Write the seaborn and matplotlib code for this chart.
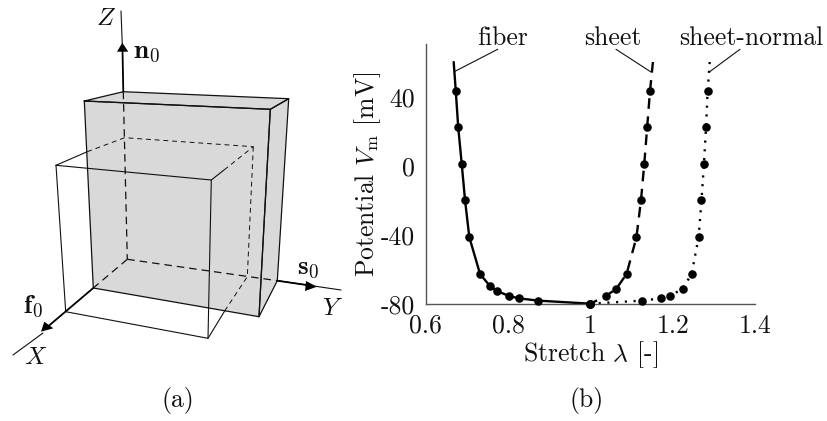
import matplotlib
matplotlib.use('Agg')
import matplotlib.pyplot as plt
import seaborn as sns

sns.set_theme(style='white')
plt.rcParams['font.family'] = ['cmr10', 'DejaVu Sans']
plt.rcParams['mathtext.fontset'] = 'cm'
plt.rcParams['axes.formatter.use_mathtext'] = True

# curves (b)
fiber_stretch = [0.668, 0.673, 0.679, 0.6875, 0.6956, 0.706, 0.732, 0.756, 0.7735, 0.802, 0.827, 0.873, 1.0]
fiber_vm = [60.7, 44, 22.7, 1.4, -19.8, -41.3, -62.7, -69.7, -72.6, -75.5, -76.9, -78.2, -80]
sheet_stretch = [1.152, 1.145, 1.138, 1.131, 1.123, 1.112, 1.088, 1.063, 1.038, 1.0]
sheet_vm = [60.7, 44, 22.7, 1.4, -19.8, -41.3, -62.7, -71.3, -75.5, -80]
normal_stretch = [1.29, 1.285, 1.281, 1.276, 1.27, 1.263, 1.246, 1.224, 1.193, 1.171, 1.126, 1.0]
normal_vm = [60.7, 44, 22.7, 1.4, -19.8, -41.3, -62.7, -71.3, -75.5, -76.9, -78.2, -80]

x_ticks = [0.6, 0.8, 1.0, 1.2, 1.4]
x_tick_labels = ['0.6', '0.8', '1', '1.2', '1.4']
y_ticks = [-80, -40, 0, 40]
y_tick_labels = ['-80', '-40', '0', '40']

# diagram (a), pixel positions in the figure
face_front = [(84.3, 101), (270.3, 109.3), (259, 316.7), (93.3, 288)]
face_top = [(84.3, 101), (123.3, 91.7), (288.7, 98.7), (270.3, 109.3)]
face_right = [(270.3, 109.3), (288.7, 98.7), (277.3, 280.7), (259, 316.7)]
solid_lines = [
    [(121, 11), (122.5, 50)],
    [(277.3, 280.7), (341, 290)],
    [(43, 333), (13, 355)],
    [(56, 165.3), (87.3, 151.7)],
    [(56, 165.3), (211.3, 180), (208, 338.3), (65.7, 311.7), (56, 165.3)],
    [(211.3, 180), (224, 170)],
    [(208, 338.3), (225.3, 310)],
]
thick_lines = [
    [(122.5, 50), (123.3, 91.7)],
    [(93.3, 288), (45, 329)],
    [(277.3, 280.7), (310, 285.5)],
]
dashed_lines = [
    [(123.3, 91.7), (127.3, 259.3)],
    [(127.3, 259.3), (93.3, 288)],
    [(127.3, 259.3), (277.3, 280.7)],
]
thin_dashed_lines = [
    [(87.3, 151.7), (124.7, 137.7), (253.3, 146.7), (224, 170)],
    [(253.3, 146.7), (247.3, 276.7), (225.3, 310)],
]
arrow_heads = [
    [(122.3, 42.7), (117, 51.7), (128.3, 51.7)],
    [(317, 286.7), (306, 281), (305, 291)],
    [(41, 331.7), (53.3, 328.3), (44.3, 321.7)],
]

fig = plt.figure(figsize=(8.28, 4.21), dpi=100)

sk = fig.add_axes([0, 0, 1, 1])
sk.set_xlim(0, 828)
sk.set_ylim(421, 0)
sk.axis('off')
for face in [face_front, face_top, face_right]:
    sk.fill([p[0] for p in face], [p[1] for p in face], color='#d9d9d9', lw=0)
    closed = face + [face[0]]
    sk.plot([p[0] for p in closed], [p[1] for p in closed], color='#111111', lw=0.9)
for line in solid_lines:
    sk.plot([p[0] for p in line], [p[1] for p in line], color='#111111', lw=0.8)
for line in thick_lines:
    sk.plot([p[0] for p in line], [p[1] for p in line], color='black', lw=1.3)
for line in dashed_lines:
    sk.plot([p[0] for p in line], [p[1] for p in line], color='#111111', lw=0.9, dashes=(6, 4))
for line in thin_dashed_lines:
    sk.plot([p[0] for p in line], [p[1] for p in line], color='#111111', lw=0.7, dashes=(5, 4))
for head in arrow_heads:
    sk.fill([p[0] for p in head], [p[1] for p in head], color='black', lw=0)

txt = dict(ha='center', va='center', color='#111111')
sk.text(106, 19, r'$Z$', fontsize=18, **txt)
sk.text(146, 52, r'$\mathbf{n}_0$', fontsize=19.5, **txt)
sk.text(308, 268, r'$\mathbf{s}_0$', fontsize=19.5, **txt)
sk.text(333, 309, r'$Y$', fontsize=18, **txt)
sk.text(33, 306, r'$\mathbf{f}_0$', fontsize=19.5, **txt)
sk.text(36, 358, r'$X$', fontsize=18, **txt)
sk.text(178, 401, '(a)', fontsize=18.5, **txt)
sk.text(587, 401, '(b)', fontsize=18.5, **txt)
sk.text(503, 38, 'fiber', fontsize=18.5, **txt)
sk.text(613, 38, 'sheet', fontsize=18.5, **txt)
sk.text(751, 38, 'sheet-normal', fontsize=18.5, **txt)

# leader lines
sk.plot([497.7, 455], [49.3, 71.3], color='#111111', lw=0.8)
sk.plot([616, 651], [49.3, 72], color='#111111', lw=0.8)
sk.plot([740, 709.3], [49.3, 72], color='#111111', lw=0.8)

ax = fig.add_axes([425.7 / 828, 1 - 303.7 / 421, 329.3 / 828, 259.7 / 421])
ax.patch.set_alpha(0)
sns.lineplot(x=fiber_stretch, y=fiber_vm, sort=False, estimator=None, color='black', lw=1.7, ax=ax)
sns.lineplot(x=sheet_stretch, y=sheet_vm, sort=False, estimator=None, color='black', lw=1.7,
             linestyle=(0, (4.5, 3.2)), ax=ax)
sns.lineplot(x=normal_stretch, y=normal_vm, sort=False, estimator=None, color='black', lw=1.7,
             linestyle=(0, (0.9, 2.8)), ax=ax)
for xs, ys in [(fiber_stretch, fiber_vm), (sheet_stretch, sheet_vm), (normal_stretch, normal_vm)]:
    sns.scatterplot(x=xs[1:], y=ys[1:], color='black', s=38, linewidth=0, clip_on=False, zorder=5, ax=ax)

ax.set_xlim(0.6, 1.4)
ax.set_ylim(-80, 71.2)
ax.set_xticks(x_ticks, x_tick_labels)
ax.set_yticks(y_ticks, y_tick_labels)
ax.tick_params(length=0, labelsize=18.5, labelcolor='#111111')
ax.tick_params(axis='x', pad=7.5)
ax.tick_params(axis='y', pad=8)
sns.despine(ax=ax)
for side in ['left', 'bottom']:
    ax.spines[side].set_color('#555555')
    ax.spines[side].set_linewidth(1.0)
ax.set_xlabel(r'Stretch $\lambda$ [-]', fontsize=18.5, color='#111111')
ax.set_ylabel(r'Potential $V_{\mathrm{m}}$ [mV]', fontsize=18.5, color='#111111')
ax.xaxis.set_label_coords(0.5, -0.138)
ax.yaxis.set_label_coords(-0.13, 0.5)

plt.savefig('out.png', dpi=100)
